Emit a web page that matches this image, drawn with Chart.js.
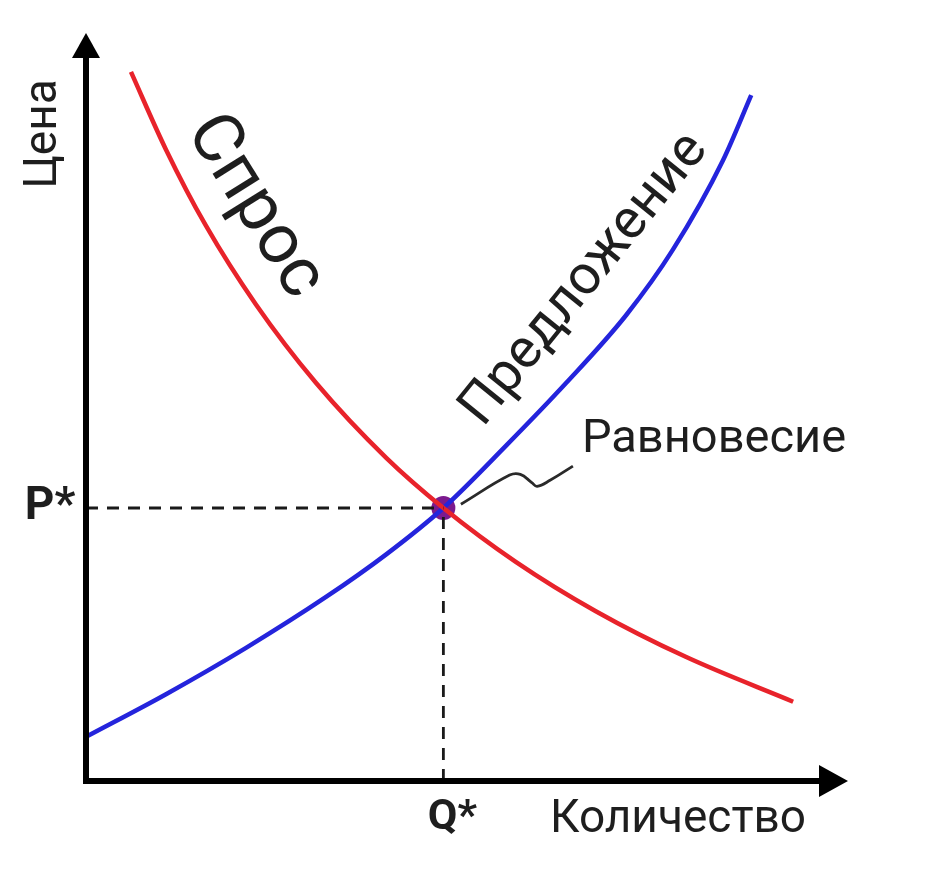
<!DOCTYPE html>
<html>
<head>
<meta charset="utf-8">
<script src="https://cdn.jsdelivr.net/npm/chart.js@4.4.0/dist/chart.umd.min.js"></script>
<style>
  html,body{margin:0;padding:0;background:#fff}
  #wrap{width:926px;height:874px}
</style>
</head>
<body>
<div id="wrap"><canvas id="chart" width="926" height="874"></canvas></div>
<script>
// supply & demand, units are arbitrary (0..10 on both axes)
const demandQ = [0.59, 1.05, 1.57, 2.23, 3.02, 3.94, 4.69, 5.64, 6.69, 7.87, 9.28]
const demandP = [9.48, 8.44, 7.43, 6.37, 5.32, 4.32, 3.65, 2.93, 2.27, 1.66, 1.06]
const supplyQ = [0, 1.05, 2.10, 3.15, 3.94, 4.69, 5.51, 6.30, 7.09, 7.70, 8.36, 8.73]
const supplyP = [0.59, 1.16, 1.78, 2.46, 3.03, 3.65, 4.48, 5.32, 6.23, 7.10, 8.30, 9.17]
const eqQ = 4.69
const eqP = 3.65
// wavy pointer from the equilibrium point to its label
const leaderQ = [4.92, 5.56, 5.70, 5.85, 5.92, 6.09, 6.39]
const leaderP = [3.70, 4.09, 4.10, 3.99, 3.94, 4.02, 4.21]

const labelDemand = 'Спрос'
const labelSupply = 'Предложение'
const labelEq = 'Равновесие'
const labelX = 'Количество'
const labelY = 'Цена'
const tickQ = 'Q*'
const tickP = 'P*'

const FONT = 'Roboto, "Liberation Sans", sans-serif'
const pts = (xs, ys) => xs.map((x,i)=>({x, y: ys[i]}))

// axes with arrows + all the text
const decor = {
  id: 'decor',
  afterDatasetsDraw(chart){
    const {ctx, chartArea: a, scales: {x, y}} = chart
    const x0 = x.getPixelForValue(0), y0 = y.getPixelForValue(0)
    ctx.save()
    ctx.strokeStyle = '#000'; ctx.fillStyle = '#000'; ctx.lineWidth = 6
    ctx.beginPath(); ctx.moveTo(x0, y0 + 3); ctx.lineTo(x0, a.top + 20); ctx.stroke()
    ctx.beginPath(); ctx.moveTo(x0 - 3, y0); ctx.lineTo(a.right - 20, y0); ctx.stroke()
    ctx.beginPath(); ctx.moveTo(x0, a.top); ctx.lineTo(x0 - 14, a.top + 25); ctx.lineTo(x0 + 14, a.top + 25); ctx.closePath(); ctx.fill()
    ctx.beginPath(); ctx.moveTo(a.right, y0); ctx.lineTo(a.right - 29, y0 - 16); ctx.lineTo(a.right - 29, y0 + 16); ctx.closePath(); ctx.fill()

    ctx.fillStyle = '#1e1e1e'
    const txt = (s, px, py, size, rot, weight) => {
      ctx.save()
      ctx.translate(px, py); ctx.rotate(rot * Math.PI / 180)
      ctx.font = (weight || 'normal') + ' ' + size + 'px ' + FONT
      ctx.textAlign = 'center'; ctx.textBaseline = 'middle'
      ctx.fillText(s, 0, 0)
      ctx.restore()
    }
    const qx = x.getPixelForValue(eqQ), py = y.getPixelForValue(eqP)
    txt(tickQ, qx + 9, y0 + 37, 43, 0, 'bold')
    txt(tickP, x0 - 36, py, 46, 0, 'bold')
    txt(labelX, 678, 820, 46, 0)
    txt(labelY, 44, 134, 46, -90)
    txt(labelEq, 714, 440, 47, 0)
    txt(labelDemand, 254, 207, 70, 58)
    txt(labelSupply, 585, 280, 55, -51)
    ctx.restore()
  }
}

new Chart(document.getElementById('chart'), {
  type: 'scatter',
  data: {
    datasets: [
      { data: [{x: 0, y: eqP}, {x: eqQ, y: eqP}], showLine: true, borderColor: '#1a1a1a', borderWidth: 2.8, borderDash: [12, 9], pointRadius: 0 },
      { data: [{x: eqQ, y: 0}, {x: eqQ, y: eqP}], showLine: true, borderColor: '#1a1a1a', borderWidth: 2.8, borderDash: [12, 9], pointRadius: 0 },
      { label: labelDemand, data: pts(demandQ, demandP), showLine: true, borderColor: '#e8232b', borderWidth: 4.5, pointRadius: 0, cubicInterpolationMode: 'monotone' },
      { label: labelSupply, data: pts(supplyQ, supplyP), showLine: true, borderColor: '#2424dc', borderWidth: 4.5, pointRadius: 0, cubicInterpolationMode: 'monotone' },
      { data: pts(leaderQ, leaderP), showLine: true, borderColor: '#2a2a2a', borderWidth: 2.8, pointRadius: 0, tension: 0.4 },
      { data: [{x: eqQ, y: eqP}], pointRadius: 12, pointBackgroundColor: '#7c1a8e', pointBorderWidth: 0 }
    ]
  },
  options: {
    responsive: false,
    animation: false,
    layout: { padding: { left: 86, right: 78, top: 33, bottom: 93 } },
    scales: {
      x: { type: 'linear', min: 0, max: 10, display: false },
      y: { type: 'linear', min: 0, max: 10, display: false }
    },
    plugins: { legend: { display: false }, tooltip: { enabled: false } },
    clip: false
  },
  plugins: [decor]
})
</script>
</body>
</html>
